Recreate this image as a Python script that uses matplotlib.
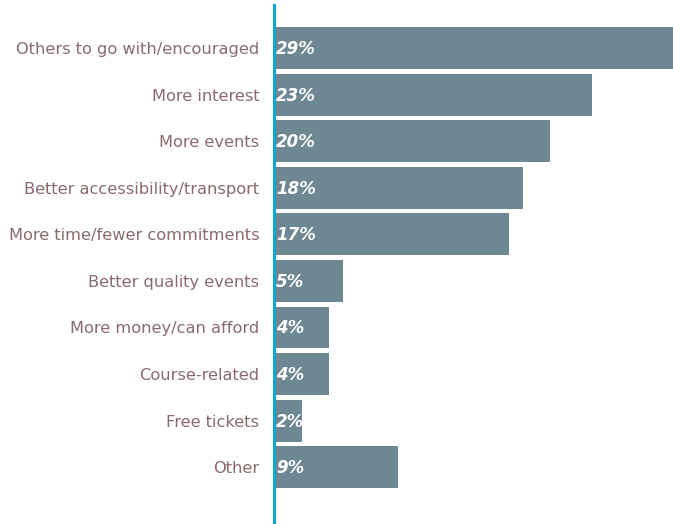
import matplotlib
matplotlib.use("Agg")
import matplotlib.pyplot as plt

categories = ["Others to go with/encouraged", "More interest", "More events",
              "Better accessibility/transport", "More time/fewer commitments",
              "Better quality events", "More money/can afford", "Course-related",
              "Free tickets", "Other"]
values = [29, 23, 20, 18, 17, 5, 4, 4, 2, 9]
labels = ["29%", "23%", "20%", "18%", "17%", "5%", "4%", "4%", "2%", "9%"]

bar_color = "#6e8893"
text_color = "#8a6a6e"
axis_color = "#12a6cb"

fig = plt.figure(figsize=(6.73, 5.24), dpi=100)
ax = fig.add_axes([274/673, 0, 1 - 274/673, 1 - 5/524])
y = list(range(len(categories)))
ax.barh(y, values, height=0.9, color=bar_color)
ax.set_xlim(0, 28.9)
ax.set_ylim(10.22, -0.924)
for yi, lab in zip(y, labels):
    ax.text(0.15, yi + 0.02, lab, color="white", fontsize=12, fontweight="bold",
            fontstyle="italic", va="center", ha="left")
ax.set_yticks(y)
ax.set_yticklabels(categories, color=text_color, fontsize=11.7)
ax.tick_params(axis="y", length=0, pad=10.5)
ax.set_xticks([])
for s in ["top", "right", "bottom"]:
    ax.spines[s].set_visible(False)
ax.spines["left"].set_color(axis_color)
ax.spines["left"].set_linewidth(2.2)
fig.savefig("out.png", dpi=100)
